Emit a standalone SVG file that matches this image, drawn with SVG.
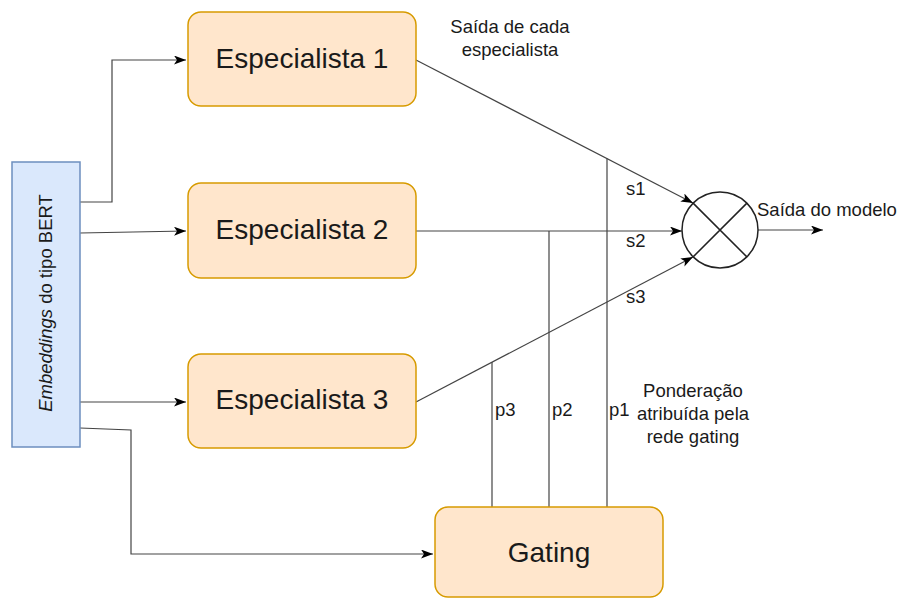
<svg xmlns="http://www.w3.org/2000/svg" width="900" height="599" viewBox="0 0 900 599">
<style>
.exp{fill:#ffe6cc;stroke:#d79b00;stroke-width:1.5}
.bert{fill:#dae8fc;stroke:#6c8ebf;stroke-width:1.5}
.big{font-family:"Liberation Sans",Arial,sans-serif;font-size:28px;fill:#1a1a1a;text-anchor:middle}
.sm{font-family:"Liberation Sans",Arial,sans-serif;font-size:18.5px;fill:#1a1a1a}
.c{text-anchor:middle}
.ln{fill:none;stroke:#444;stroke-width:1.2}
</style>
<defs>
<marker id="ah" markerUnits="userSpaceOnUse" markerWidth="13" markerHeight="10" refX="12" refY="4.5" orient="auto">
<path d="M0,0 L12,4.5 L0,9 L3,4.5 Z" fill="#000"/>
</marker>
</defs>
<rect width="900" height="599" fill="#fff"/>
<g id="connectors">
<path class="ln" d="M80,202 H112 V60 H186" marker-end="url(#ah)"/>
<path class="ln" d="M80,233 L186,231" marker-end="url(#ah)"/>
<path class="ln" d="M80,402 H186" marker-end="url(#ah)"/>
<path class="ln" d="M80,428 L131,430 V554 H433" marker-end="url(#ah)"/>
<path class="ln" d="M416,60 L693,203" marker-end="url(#ah)"/>
<path class="ln" d="M416,231 H682" marker-end="url(#ah)"/>
<path class="ln" d="M416,402 L693,257" marker-end="url(#ah)"/>
<path class="ln" d="M758,230 H823" marker-end="url(#ah)"/>
<path class="ln" d="M607,158.6 V507"/>
<path class="ln" d="M549,231 V507"/>
<path class="ln" d="M492,362 V507"/>
</g>
<g id="bert">
<rect class="bert" x="12" y="162" width="68" height="285"/>
<text class="sm" transform="translate(52,303) rotate(-90)" text-anchor="middle"><tspan font-style="italic">Embeddings</tspan> do tipo BERT</text>
</g>
<g id="esp1">
<rect class="exp" x="188" y="12" width="228" height="94" rx="13"/>
<text class="big" x="302" y="68">Especialista 1</text>
</g>
<g id="esp2">
<rect class="exp" x="188" y="183" width="228" height="95" rx="13"/>
<text class="big" x="302" y="239">Especialista 2</text>
</g>
<g id="esp3">
<rect class="exp" x="188" y="354" width="228" height="94" rx="13"/>
<text class="big" x="302" y="409">Especialista 3</text>
</g>
<g id="gating">
<rect class="exp" x="435" y="507" width="228" height="90" rx="13"/>
<text class="big" x="549" y="562">Gating</text>
</g>
<g id="mult">
<circle cx="720" cy="230" r="38" fill="#fff" stroke="#222" stroke-width="1.5"/>
<path d="M693.1,203.1 L746.9,256.9 M693.1,256.9 L746.9,203.1" stroke="#222" stroke-width="1.5"/>
</g>
<g id="labels">
<text class="sm c" x="510" y="33">Saída de cada</text>
<text class="sm c" x="510" y="56">especialista</text>
<text class="sm" x="757" y="216">Saída do modelo</text>
<text class="sm" x="626" y="195">s1</text>
<text class="sm" x="626" y="247">s2</text>
<text class="sm" x="626" y="303">s3</text>
<text class="sm" x="495" y="416">p3</text>
<text class="sm" x="552" y="416">p2</text>
<text class="sm" x="609" y="416">p1</text>
<text class="sm c" x="693" y="397">Ponderação</text>
<text class="sm c" x="693" y="420">atribuída pela</text>
<text class="sm c" x="693" y="443">rede gating</text>
</g>
</svg>
